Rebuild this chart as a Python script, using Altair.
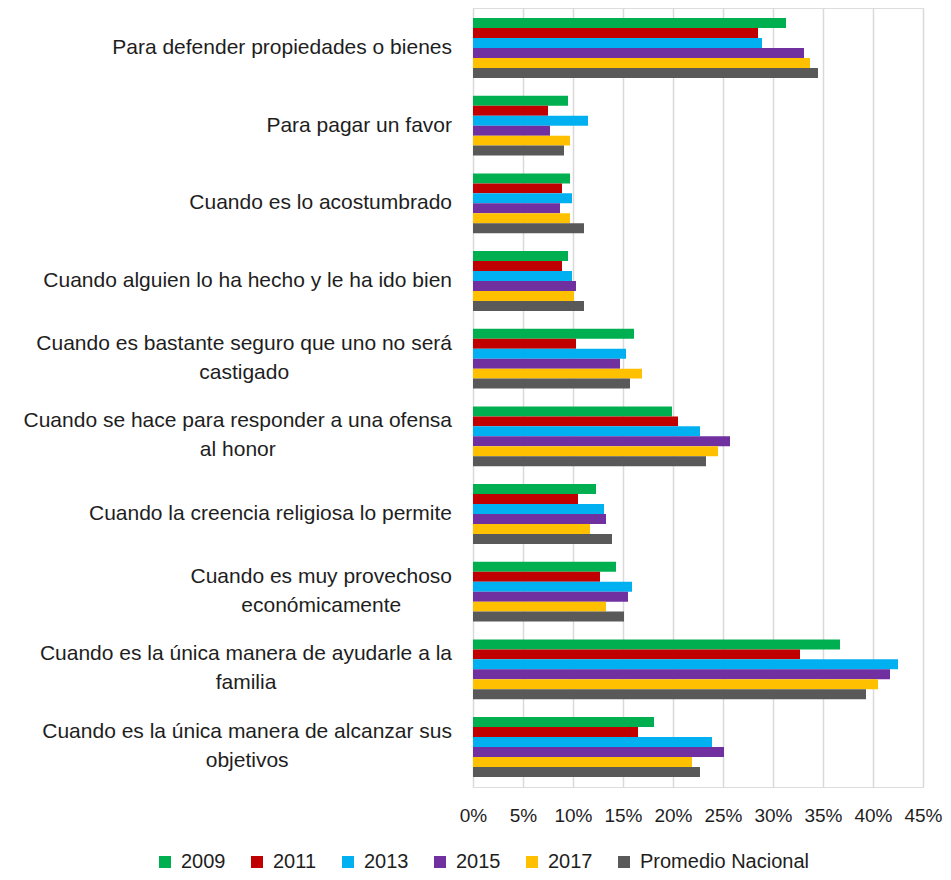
import altair as alt
import pandas as pd

# ---------------- data ----------------
categories = [
    "Para defender propiedades o bienes",
    "Para pagar un favor",
    "Cuando es lo acostumbrado",
    "Cuando alguien lo ha hecho y le ha ido bien",
    "Cuando es bastante seguro que uno no será castigado",
    "Cuando se hace para responder a una ofensa al honor",
    "Cuando la creencia religiosa lo permite",
    "Cuando es muy provechoso económicamente",
    "Cuando es la única manera de ayudarle a la familia",
    "Cuando es la única manera de alcanzar sus objetivos",
]
label_first = [
    "Para defender propiedades o bienes",
    "Para pagar un favor",
    "Cuando es lo acostumbrado",
    "Cuando alguien lo ha hecho y le ha ido bien",
    "Cuando es bastante seguro que uno no será",
    "Cuando se hace para responder a una ofensa",
    "Cuando la creencia religiosa lo permite",
    "Cuando es muy provechoso",
    "Cuando es la única manera de ayudarle a la",
    "Cuando es la única manera de alcanzar sus",
]
label_second = ["", "", "", "", "castigado", "al honor", "",
                "económicamente", "familia", "objetivos"]

series = ["2009", "2011", "2013", "2015", "2017", "Promedio Nacional"]
v2009 = [31.3, 9.5, 9.7, 9.5, 16.1, 19.9, 12.3, 14.3, 36.7, 18.1]
v2011 = [28.5, 7.5, 8.9, 8.9, 10.3, 20.5, 10.5, 12.7, 32.7, 16.5]
v2013 = [28.9, 11.5, 9.9, 9.9, 15.3, 22.7, 13.1, 15.9, 42.5, 23.9]
v2015 = [33.1, 7.7, 8.7, 10.3, 14.7, 25.7, 13.3, 15.5, 41.7, 25.1]
v2017 = [33.7, 9.7, 9.7, 10.1, 16.9, 24.5, 11.7, 13.3, 40.5, 21.9]
vprom = [34.5, 9.1, 11.1, 11.1, 15.7, 23.3, 13.9, 15.1, 39.3, 22.7]
colors = ["#00B050", "#C00000", "#00B0F0", "#7030A0", "#FFC000", "#595959"]
x_ticks = [0, 5, 10, 15, 20, 25, 30, 35, 40, 45]

# ---------------- layout constants ----------------
FONT = "Liberation Sans"
FS_AX = 19   # axis tick labels
FS = 20      # legend
FS_CAT = 21  # category labels
TXT = "#1e1e1e"
W, H = 450, 779
LABEL_GAP = 21  # px between label right edge and plot

# Arial / Liberation Sans advance widths (per 1000 em) for centering 2nd lines
_w = {" ": 278, "a": 556, "b": 556, "c": 500, "d": 556, "e": 556, "f": 278,
      "g": 556, "h": 556, "i": 222, "j": 222, "k": 500, "l": 222, "m": 833,
      "n": 556, "o": 556, "p": 556, "q": 556, "r": 333, "s": 500, "t": 278,
      "u": 556, "v": 500, "w": 722, "x": 500, "y": 500, "z": 500, "C": 722,
      "P": 667, "á": 556, "é": 556, "ó": 556, "ú": 556}


def text_width(s, size):
    return sum(_w.get(ch, 556) for ch in s) * size / 1000.0


px_per_unit = W / (x_ticks[-1] - x_ticks[0])

rows = []
for vals, s in zip([v2009, v2011, v2013, v2015, v2017, vprom], series):
    for c, v in zip(categories, vals):
        rows.append({"cat": c, "series": s, "value": v})
df = pd.DataFrame(rows)

lab = pd.DataFrame({"cat": categories, "first": label_first, "second": label_second})
lab["cx"] = [(-LABEL_GAP - text_width(f, FS_CAT) / 2) / px_per_unit for f in label_first]
single = lab[lab["second"] == ""]
double = lab[lab["second"] != ""]

yscale = alt.Scale(domain=categories, paddingInner=0.23, paddingOuter=0.13)

bars = alt.Chart(df).mark_bar().encode(
    x=alt.X("value:Q",
            scale=alt.Scale(domain=[0, 45], nice=False, zero=True),
            axis=alt.Axis(values=x_ticks, labelExpr="datum.value + '%'",
                          title=None, grid=True, gridColor="#d9d9d9",
                          gridWidth=1.5, domain=False, ticks=False,
                          labelOverlap=False, labelFlush=False,
                          labelFont=FONT, labelFontSize=FS_AX, labelColor=TXT,
                          labelPadding=19)),
    y=alt.Y("cat:N", sort=categories, scale=yscale, axis=None),
    yOffset=alt.YOffset("series:N", sort=series,
                        scale=alt.Scale(domain=series, paddingInner=0,
                                        paddingOuter=0)),
    color=alt.Color("series:N", sort=series,
                    scale=alt.Scale(domain=series, range=colors),
                    legend=alt.Legend(title=None, orient="none",
                                      legendX=-318, legendY=844,
                                      direction="horizontal", columns=6,
                                      symbolType="square", symbolSize=144,
                                      symbolStrokeWidth=0, labelFont=FONT,
                                      labelFontSize=FS, labelColor=TXT,
                                      labelLimit=400,
                                      labelOffset=6, columnPadding=21)),
)

t_single = alt.Chart(single).mark_text(
    align="right", baseline="middle", font=FONT, fontSize=FS_CAT, color=TXT
).encode(
    y=alt.Y("cat:N", sort=categories, axis=None),
    x=alt.value(-LABEL_GAP),
    text="first:N",
)

t_first = alt.Chart(double).mark_text(
    align="right", baseline="middle", font=FONT, fontSize=FS_CAT, color=TXT, dy=-15
).encode(
    y=alt.Y("cat:N", sort=categories, axis=None),
    x=alt.value(-LABEL_GAP),
    text="first:N",
)

t_second = alt.Chart(double).mark_text(
    align="center", baseline="middle", font=FONT, fontSize=FS_CAT, color=TXT, dy=14
).encode(
    y=alt.Y("cat:N", sort=categories, axis=None),
    x=alt.X("cx:Q"),
    text="second:N",
)

chart = alt.layer(bars, t_single, t_first, t_second).properties(
    width=W, height=H,
    autosize=alt.AutoSizeParams(type="none"),
    padding={"left": 465, "top": 0, "right": 20, "bottom": 85},
).configure_view(stroke=None).configure(background="white")

chart.save("out.html", embed_options={"renderer": "svg", "actions": False})
